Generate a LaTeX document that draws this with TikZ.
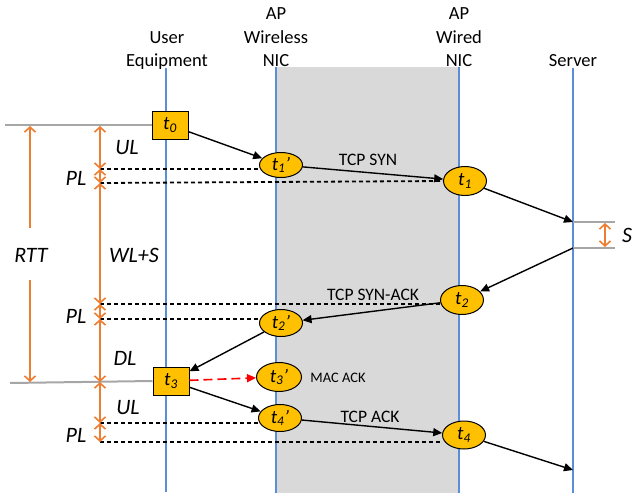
\documentclass[tikz,border=0pt]{standalone}
\usepackage{fontspec}
\setmainfont{Carlito}
\usetikzlibrary{arrows.meta,shapes.geometric}
\definecolor{lifeblue}{HTML}{5B8ED6}
\definecolor{measorange}{HTML}{ED7D31}
\definecolor{gold}{HTML}{FFC000}
\definecolor{bgfill}{HTML}{D9D9D9}
\definecolor{grayln}{HTML}{A6A6A6}
\begin{document}
\begin{tikzpicture}[x=1pt,y=-1pt,
  lifeline/.style={lifeblue, line width=2.6pt},
  head/.style={font=\fontsize{18.5}{23.5}\selectfont, align=center, anchor=base, inner sep=0},
  evbox/.style={draw=black, fill=gold, line width=1pt, minimum width=36pt, minimum height=28pt, inner sep=0, font=\fontsize{19}{22}\selectfont\itshape},
  evell/.style={ellipse, draw=black, fill=gold, line width=1pt, minimum width=43pt, minimum height=27pt, inner sep=0, font=\fontsize{19}{22}\selectfont\itshape},
  msg/.style={-{Triangle[length=9pt,width=8pt]}, line width=1.4pt},
  redmsg/.style={-{Triangle[length=9pt,width=8pt]}, red, line width=1.6pt, dash pattern=on 9pt off 5pt},
  dashline/.style={dash pattern=on 4pt off 3pt, line width=1.8pt},
  meas/.style={{Straight Barb[length=5pt,width=11pt]}-{Straight Barb[length=5pt,width=11pt]}, measorange, line width=1.6pt},
  halfmeas/.style={measorange, line width=1.6pt},
  grayline/.style={grayln, line width=2pt},
  lbl/.style={font=\fontsize{22}{24}\selectfont\itshape, inner sep=0},
  tcp/.style={font=\fontsize{17.5}{20}\selectfont, inner sep=0},
  small/.style={font=\fontsize{14.5}{17}\selectfont, inner sep=0}
]
\useasboundingbox (0,0) rectangle (632,498);
\fill[bgfill] (276,67) rectangle (459,493);

% lifelines
\coordinate (ue-top) at (166,68);  \coordinate (ue-bot) at (166,492);
\coordinate (wl-top) at (276,67);  \coordinate (wl-bot) at (276,493);
\coordinate (wd-top) at (459,67);  \coordinate (wd-bot) at (459,493);
\coordinate (sv-top) at (573,68);  \coordinate (sv-bot) at (573,493);
\draw[lifeline] (ue-top) -- (ue-bot);
\draw[lifeline] (wl-top) -- (wl-bot);
\draw[lifeline] (wd-top) -- (wd-bot);
\draw[lifeline] (sv-top) -- (sv-bot);

% headers (base anchor = baseline of last line)
\node[head] (hue) at (167,66.5) {User\\Equipment};
\node[head] (hwl) at (276,66.5) {AP\\Wireless\\NIC};
\node[head] (hwd) at (459,66.5) {AP\\Wired\\NIC};
\node[head] (hsv) at (573,66.5) {Server};

% dashed reference lines
\coordinate (d1) at (100,169);
\coordinate (d2) at (100,183);
\coordinate (d3) at (100,304);
\coordinate (d4) at (100,319);
\coordinate (d5) at (100,423);
\coordinate (d6) at (100,442);

% event nodes
\node[evbox] (t0) at (170,125) {t\textsubscript{0}};
\node[evell, minimum height=25pt] (t1p) at (281,165) {t\textsubscript{1}'};
\node[evell, minimum height=29pt] (t1) at (465,181) {t\textsubscript{1}};
\node[evell, minimum height=29pt] (t2) at (462,300) {t\textsubscript{2}};
\node[evell] (t2p) at (281,323) {t\textsubscript{2}'};
\node[evbox] (t3) at (171,381) {t\textsubscript{3}};
\node[evell, minimum width=45pt, minimum height=29pt] (t3p) at (279,377) {t\textsubscript{3}'};
\node[evell] (t4p) at (280,418) {t\textsubscript{4}'};
\node[evell, minimum height=28pt] (t4) at (464,435) {t\textsubscript{4}};

\draw[dashline] (d1) -- (d1 -| t1p.west);
\draw[dashline] (d2) -- (t1.west);
\draw[dashline] (d3) -- (d3 -| t2.west);
\draw[dashline] (d4) -- (d4 -| t2p.west);
\draw[dashline] (d5) -- (d5 -| t4p.west);
\draw[dashline] (d6) -- (d6 -| t4.west);

% server marks
\coordinate (s1) at (573,222);
\coordinate (s2) at (573,248);
\coordinate (s3) at (573,470);
\coordinate (s1e) at (615,222);
\coordinate (s2e) at (615,248);
\draw[grayline] (s1) -- (s1e);
\draw[grayline] (s2) -- (s2e);
\coordinate (sa) at (605,223);
\coordinate (sb) at (605,247);
\draw[meas] (sa) -- (sb);
\node[lbl, anchor=west] (slbl) at (622,235) {S};

% gray horizontal lines
\coordinate (g0) at (5,125);
\coordinate (g3) at (10,383);
\draw[grayline] (g0) -- (t0.west);
\draw[grayline] (g3) -- (t3.west);

% messages
\draw[msg] (t0) -- (t1p);
\draw[msg] (t1p) -- (t1);
\draw[msg] (t1) -- (s1);
\draw[msg] (s2) -- (t2);
\draw[msg] (t2) -- (t2p);
\draw[msg] (t2p) -- (t3);
\draw[redmsg] (t3) -- (t3p);
\draw[msg] (t3) -- (t4p);
\draw[msg] (t4p) -- (t4);
\draw[msg] (t4) -- (s3);

% message labels
\node[tcp] (lsyn) at (368,160) {TCP SYN};
\node[tcp] (lsynack) at (373,295) {TCP SYN-ACK};
\node[tcp] (lack) at (370,417) {TCP ACK};
\node[small] (lmac) at (338,378) {MAC ACK};

% measurement arrows
\coordinate (m0) at (100,126);
\coordinate (m3) at (100,382);
\draw[meas] (m0) -- (d1);
\draw[meas] (d1) -- (d2);
\draw[meas] (d2) -- (d3);
\draw[meas] (d3) -- (d4);
\draw[meas] (d4) -- (m3);
\draw[meas] (m3) -- (d5);
\draw[meas] (d5) -- (d6);

\coordinate (r0) at (30,126);
\coordinate (r1) at (30,228);
\coordinate (r2) at (30,280);
\coordinate (r3) at (30,382);
\draw[halfmeas, {Straight Barb[length=5pt,width=11pt]}-] (r0) -- (r1);
\draw[halfmeas, -{Straight Barb[length=5pt,width=11pt]}] (r2) -- (r3);

\node[lbl] (lrtt) at (31,255) {RTT};
\node[lbl] (lul1) at (127,148) {UL};
\node[lbl] (lpl1) at (76,178) {PL};
\node[lbl] (lwls) at (134,255) {WL+S};
\node[lbl] (lpl2) at (76,316) {PL};
\node[lbl] (ldl) at (125,358) {DL};
\node[lbl] (lul2) at (128,408) {UL};
\node[lbl] (lpl3) at (76,435) {PL};
\end{tikzpicture}
\end{document}
